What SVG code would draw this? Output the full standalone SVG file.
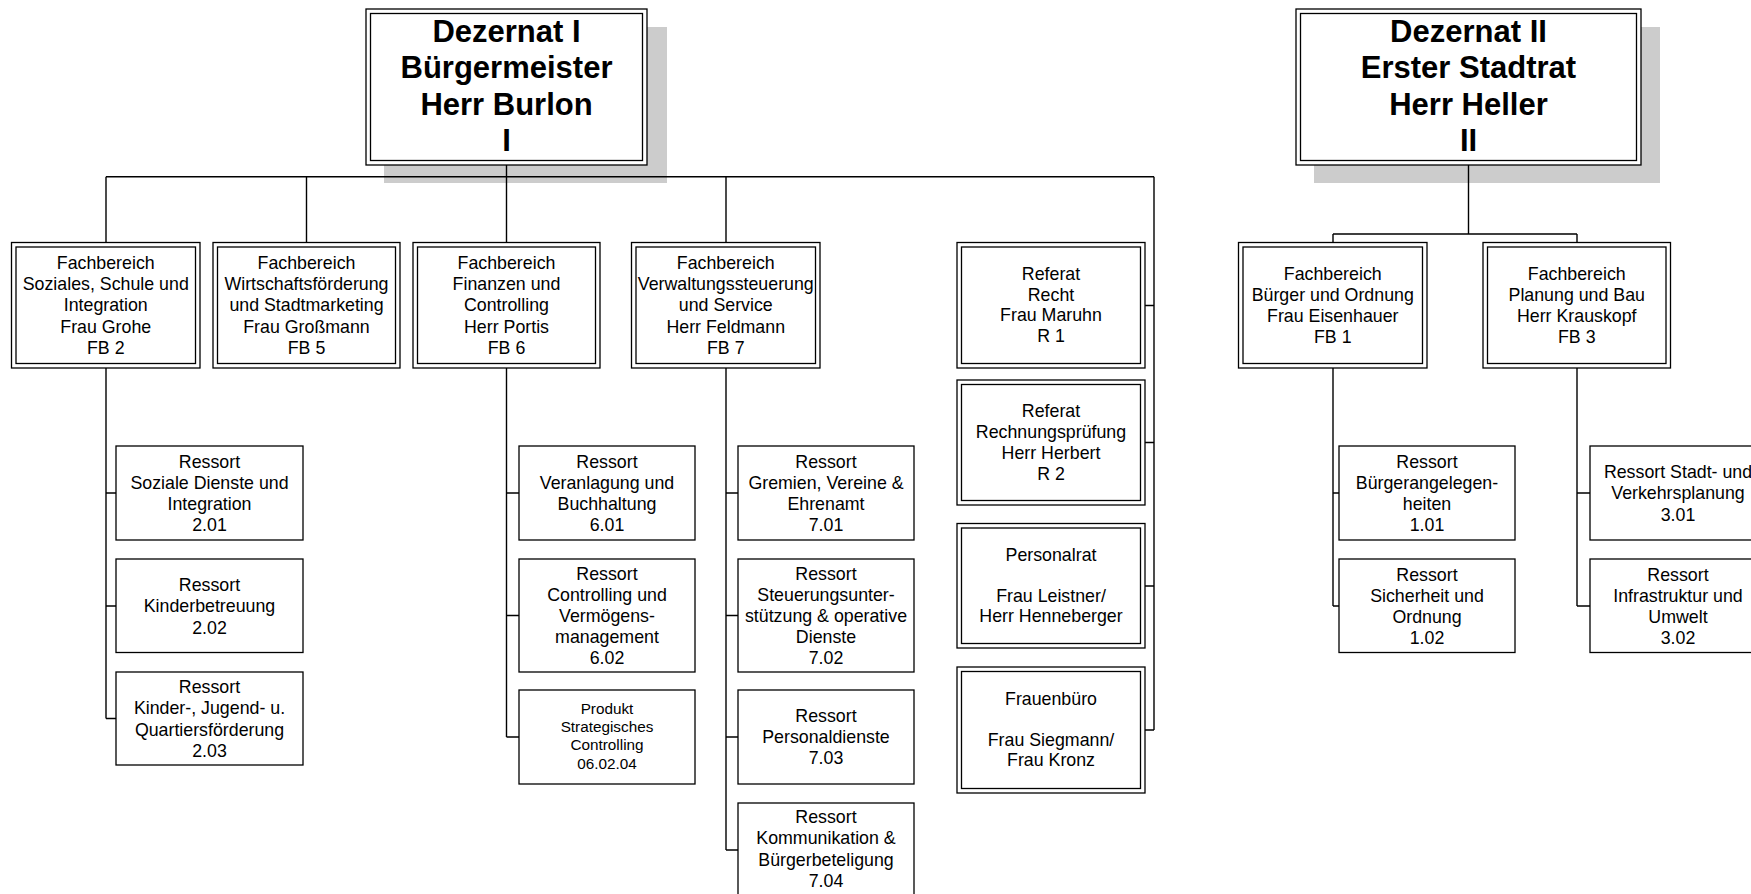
<svg xmlns="http://www.w3.org/2000/svg" width="1751" height="894" viewBox="0 0 1751 894">
<style>
  .bg{fill:#ffffff}
  .shadow{fill:#cccccc;stroke:none}
  .box{fill:#ffffff;stroke:#000000;stroke-width:1.3}
  .inner{fill:none;stroke:#000000;stroke-width:1.3}
  .conn{fill:none;stroke:#000000;stroke-width:1.4}
  text{font-family:"Liberation Sans",Arial,sans-serif;fill:#000000;text-anchor:middle}
  .t{font-size:17.8px}
  .s{font-size:15.3px}
  .title{font-size:31px;font-weight:bold}
</style>
<rect class="bg" x="0" y="0" width="1751" height="894"/>

<g id="shadows">
  <rect class="shadow" x="384" y="27" width="283" height="156"/>
  <rect class="shadow" x="1314" y="27" width="346" height="156"/>
</g>

<g id="connectors">
  <path class="conn" d="M506.5 165V242.5M106 176.7H1154M106 176.7V242.5M306.5 176.7V242.5M726 176.7V242.5M1154 176.7V730"/>
  <path class="conn" d="M1145 305.5H1154M1145 442.5H1154M1145 586H1154M1145 730H1154"/>
  <path class="conn" d="M106 368V718.5M106 493H116M106 606H116M106 718.5H116"/>
  <path class="conn" d="M506.5 368V737M506.5 493H519M506.5 615.5H519M506.5 737H519"/>
  <path class="conn" d="M726 368V850M726 493H738M726 615.5H738M726 737H738M726 850H738"/>
  <path class="conn" d="M1468.5 165V234M1333 234H1577M1333 234V242.5M1577 234V242.5"/>
  <path class="conn" d="M1333 368V606M1333 493H1339M1333 606H1339"/>
  <path class="conn" d="M1577 368V606M1577 493H1590M1577 606H1590"/>
</g>

<g id="dezernat1">
  <rect class="box" x="366" y="9" width="281" height="156"/>
  <rect class="inner" x="370.5" y="13.5" width="272" height="147"/>
  <text class="title"><tspan x="506.5" y="41.5">Dezernat I</tspan><tspan x="506.5" y="78">Bürgermeister</tspan><tspan x="506.5" y="114.5">Herr Burlon</tspan><tspan x="506.5" y="151">I</tspan></text>
</g>

<g id="dezernat2">
  <rect class="box" x="1296" y="9" width="345" height="156"/>
  <rect class="inner" x="1300.5" y="13.5" width="336" height="147"/>
  <text class="title"><tspan x="1468.5" y="41.5">Dezernat II</tspan><tspan x="1468.5" y="78">Erster Stadtrat</tspan><tspan x="1468.5" y="114.5">Herr Heller</tspan><tspan x="1468.5" y="151">II</tspan></text>
</g>

<g id="fb2">
  <rect class="box" x="11.5" y="242.5" width="188.5" height="125.5"/>
  <rect class="inner" x="16" y="247" width="179.5" height="116.5"/>
  <text class="t"><tspan x="105.75" y="269">Fachbereich</tspan><tspan x="105.75" y="290.2">Soziales, Schule und</tspan><tspan x="105.75" y="311.4">Integration</tspan><tspan x="105.75" y="332.6">Frau Grohe</tspan><tspan x="105.75" y="353.8">FB 2</tspan></text>
</g>

<g id="fb5">
  <rect class="box" x="213" y="242.5" width="187" height="125.5"/>
  <rect class="inner" x="217.5" y="247" width="178" height="116.5"/>
  <text class="t"><tspan x="306.5" y="269">Fachbereich</tspan><tspan x="306.5" y="290.2">Wirtschaftsförderung</tspan><tspan x="306.5" y="311.4">und Stadtmarketing</tspan><tspan x="306.5" y="332.6">Frau Großmann</tspan><tspan x="306.5" y="353.8">FB 5</tspan></text>
</g>

<g id="fb6">
  <rect class="box" x="413" y="242.5" width="187" height="125.5"/>
  <rect class="inner" x="417.5" y="247" width="178" height="116.5"/>
  <text class="t"><tspan x="506.5" y="269">Fachbereich</tspan><tspan x="506.5" y="290.2">Finanzen und</tspan><tspan x="506.5" y="311.4">Controlling</tspan><tspan x="506.5" y="332.6">Herr Portis</tspan><tspan x="506.5" y="353.8">FB 6</tspan></text>
</g>

<g id="fb7">
  <rect class="box" x="631.5" y="242.5" width="188.5" height="125.5"/>
  <rect class="inner" x="636" y="247" width="179.5" height="116.5"/>
  <text class="t"><tspan x="725.75" y="269">Fachbereich</tspan><tspan x="725.75" y="290.2">Verwaltungssteuerung</tspan><tspan x="725.75" y="311.4">und Service</tspan><tspan x="725.75" y="332.6">Herr Feldmann</tspan><tspan x="725.75" y="353.8">FB 7</tspan></text>
</g>

<g id="r1">
  <rect class="box" x="957" y="242.5" width="188" height="125.5"/>
  <rect class="inner" x="961.5" y="247" width="179" height="116.5"/>
  <text class="t"><tspan x="1051" y="279.5">Referat</tspan><tspan x="1051" y="300.5">Recht</tspan><tspan x="1051" y="321.2">Frau Maruhn</tspan><tspan x="1051" y="342">R 1</tspan></text>
</g>

<g id="r2">
  <rect class="box" x="957" y="380" width="188" height="125"/>
  <rect class="inner" x="961.5" y="384.5" width="179" height="116"/>
  <text class="t"><tspan x="1051" y="417">Referat</tspan><tspan x="1051" y="437.8">Rechnungsprüfung</tspan><tspan x="1051" y="458.8">Herr Herbert</tspan><tspan x="1051" y="479.7">R 2</tspan></text>
</g>

<g id="personalrat">
  <rect class="box" x="957" y="523.5" width="188" height="124.5"/>
  <rect class="inner" x="961.5" y="528" width="179" height="115.5"/>
  <text class="t"><tspan x="1051" y="561">Personalrat</tspan><tspan x="1051" y="601.5">Frau Leistner/</tspan><tspan x="1051" y="622.2">Herr Henneberger</tspan></text>
</g>

<g id="frauenbuero">
  <rect class="box" x="957" y="667" width="188" height="126"/>
  <rect class="inner" x="961.5" y="671.5" width="179" height="117"/>
  <text class="t"><tspan x="1051" y="705">Frauenbüro</tspan><tspan x="1051" y="745.6">Frau Siegmann/</tspan><tspan x="1051" y="766.3">Frau Kronz</tspan></text>
</g>

<g id="fb1">
  <rect class="box" x="1238.5" y="242.5" width="188.5" height="125.5"/>
  <rect class="inner" x="1243" y="247" width="179.5" height="116.5"/>
  <text class="t"><tspan x="1332.75" y="279.6">Fachbereich</tspan><tspan x="1332.75" y="300.8">Bürger und Ordnung</tspan><tspan x="1332.75" y="322">Frau Eisenhauer</tspan><tspan x="1332.75" y="343.2">FB 1</tspan></text>
</g>

<g id="fb3">
  <rect class="box" x="1483" y="242.5" width="187.5" height="125.5"/>
  <rect class="inner" x="1487.5" y="247" width="178.5" height="116.5"/>
  <text class="t"><tspan x="1576.75" y="279.6">Fachbereich</tspan><tspan x="1576.75" y="300.8">Planung und Bau</tspan><tspan x="1576.75" y="322">Herr Krauskopf</tspan><tspan x="1576.75" y="343.2">FB 3</tspan></text>
</g>

<g id="r201">
  <rect class="box" x="116" y="446" width="187" height="94"/>
  <text class="t"><tspan x="209.5" y="467.6">Ressort</tspan><tspan x="209.5" y="488.8">Soziale Dienste und</tspan><tspan x="209.5" y="510">Integration</tspan><tspan x="209.5" y="531.2">2.01</tspan></text>
</g>
<g id="r202">
  <rect class="box" x="116" y="559" width="187" height="93.5"/>
  <text class="t"><tspan x="209.5" y="591.2">Ressort</tspan><tspan x="209.5" y="612.4">Kinderbetreuung</tspan><tspan x="209.5" y="633.6">2.02</tspan></text>
</g>
<g id="r203">
  <rect class="box" x="116" y="672" width="187" height="93"/>
  <text class="t"><tspan x="209.5" y="693.1">Ressort</tspan><tspan x="209.5" y="714.3">Kinder-, Jugend- u.</tspan><tspan x="209.5" y="735.5">Quartiersförderung</tspan><tspan x="209.5" y="756.7">2.03</tspan></text>
</g>

<g id="r601">
  <rect class="box" x="519" y="446" width="176" height="94"/>
  <text class="t"><tspan x="607" y="467.6">Ressort</tspan><tspan x="607" y="488.8">Veranlagung und</tspan><tspan x="607" y="510">Buchhaltung</tspan><tspan x="607" y="531.2">6.01</tspan></text>
</g>
<g id="r602">
  <rect class="box" x="519" y="559" width="176" height="113"/>
  <text class="t"><tspan x="607" y="579.5">Ressort</tspan><tspan x="607" y="600.7">Controlling und</tspan><tspan x="607" y="621.9">Vermögens-</tspan><tspan x="607" y="643.1">management</tspan><tspan x="607" y="664.3">6.02</tspan></text>
</g>
<g id="p60204">
  <rect class="box" x="519" y="690" width="176" height="94"/>
  <text class="s"><tspan x="607" y="713.8">Produkt</tspan><tspan x="607" y="732.1">Strategisches</tspan><tspan x="607" y="750.4">Controlling</tspan><tspan x="607" y="768.7">06.02.04</tspan></text>
</g>

<g id="r701">
  <rect class="box" x="738" y="446" width="176" height="94"/>
  <text class="t"><tspan x="826" y="467.6">Ressort</tspan><tspan x="826" y="488.8">Gremien, Vereine &amp;</tspan><tspan x="826" y="510">Ehrenamt</tspan><tspan x="826" y="531.2">7.01</tspan></text>
</g>
<g id="r702">
  <rect class="box" x="738" y="559" width="176" height="113"/>
  <text class="t"><tspan x="826" y="579.5">Ressort</tspan><tspan x="826" y="600.7">Steuerungsunter-</tspan><tspan x="826" y="621.9">stützung &amp; operative</tspan><tspan x="826" y="643.1">Dienste</tspan><tspan x="826" y="664.3">7.02</tspan></text>
</g>
<g id="r703">
  <rect class="box" x="738" y="690" width="176" height="94"/>
  <text class="t"><tspan x="826" y="721.6">Ressort</tspan><tspan x="826" y="742.8">Personaldienste</tspan><tspan x="826" y="764">7.03</tspan></text>
</g>
<g id="r704">
  <rect class="box" x="738" y="803" width="176" height="95"/>
  <text class="t"><tspan x="826" y="823.1">Ressort</tspan><tspan x="826" y="844.3">Kommunikation &amp;</tspan><tspan x="826" y="865.5">Bürgerbeteligung</tspan><tspan x="826" y="886.7">7.04</tspan></text>
</g>

<g id="r101">
  <rect class="box" x="1339" y="446" width="176" height="94"/>
  <text class="t"><tspan x="1427" y="467.6">Ressort</tspan><tspan x="1427" y="488.8">Bürgerangelegen-</tspan><tspan x="1427" y="510">heiten</tspan><tspan x="1427" y="531.2">1.01</tspan></text>
</g>
<g id="r102">
  <rect class="box" x="1339" y="559" width="176" height="93.5"/>
  <text class="t"><tspan x="1427" y="580.6">Ressort</tspan><tspan x="1427" y="601.8">Sicherheit und</tspan><tspan x="1427" y="623">Ordnung</tspan><tspan x="1427" y="644.2">1.02</tspan></text>
</g>

<g id="r301">
  <rect class="box" x="1590" y="446" width="176" height="94"/>
  <text class="t"><tspan x="1678" y="478.2">Ressort Stadt- und</tspan><tspan x="1678" y="499.4">Verkehrsplanung</tspan><tspan x="1678" y="520.6">3.01</tspan></text>
</g>
<g id="r302">
  <rect class="box" x="1590" y="559" width="176" height="93.5"/>
  <text class="t"><tspan x="1678" y="580.6">Ressort</tspan><tspan x="1678" y="601.8">Infrastruktur und</tspan><tspan x="1678" y="623">Umwelt</tspan><tspan x="1678" y="644.2">3.02</tspan></text>
</g>
</svg>
